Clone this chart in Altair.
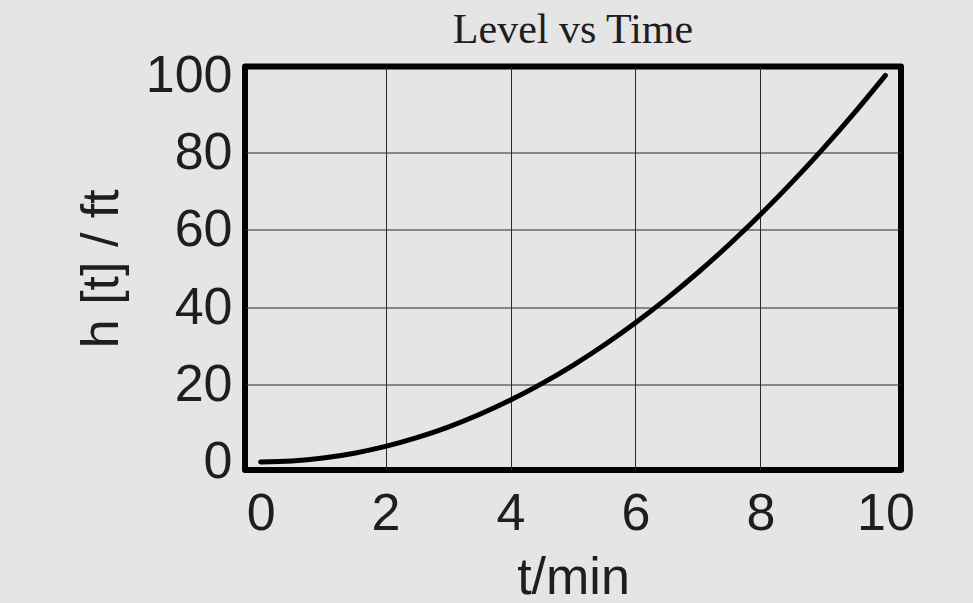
import altair as alt
import pandas as pd

# Tank level readings over time
t_min = [0, 0.5, 1, 1.5, 2, 2.5, 3, 3.5, 4, 4.5, 5,
         5.5, 6, 6.5, 7, 7.5, 8, 8.5, 9, 9.5, 10]
h_ft = [0, 0.25, 1, 2.25, 4, 6.25, 9, 12.25, 16, 20.25, 25,
        30.25, 36, 42.25, 49, 56.25, 64, 72.25, 81, 90.25, 100]
x_ticks = [0, 2, 4, 6, 8, 10]
y_ticks = [0, 20, 40, 60, 80, 100]

df = pd.DataFrame({"t": t_min, "h": h_ft})

label_font = "Liberation Sans"
ink = "#1f1d1e"

# hide the grid lines that would sit on the frame ends
x_grid = alt.condition("datum.value <= 0 || datum.value >= 10", alt.value(0), alt.value(1))
y_grid = alt.condition("datum.value <= 0 || datum.value >= 100", alt.value(0), alt.value(1))

line = alt.Chart(df).mark_line(
    color="black", strokeWidth=5, strokeCap="round", interpolate="monotone"
).encode(
    x=alt.X(
        "t:Q",
        title="t/min",
        scale=alt.Scale(domain=[-0.25, 10.25], nice=False, zero=False),
        axis=alt.Axis(
            values=x_ticks, format="d", ticks=False, domain=False,
            grid=True, gridColor="#2a2a2a", gridWidth=1, gridOpacity=x_grid,
            labelFont=label_font, labelFontSize=52, labelColor=ink,
            labelPadding=18, labelFlush=False, labelOverlap=False,
            titleFont=label_font, titleFontSize=52, titleFontWeight="normal",
            titleColor=ink, titlePadding=13,
        ),
    ),
    y=alt.Y(
        "h:Q",
        title="h [t] / ft",
        scale=alt.Scale(domain=[-2.1, 102.3], nice=False, zero=False),
        axis=alt.Axis(
            values=y_ticks, format="d", ticks=False, domain=False,
            grid=True, gridColor="#2a2a2a", gridWidth=1, gridOpacity=y_grid,
            labelFont=label_font, labelFontSize=52, labelColor=ink,
            labelPadding=13, labelFlush=False, labelOverlap=False,
            titleFont=label_font, titleFontSize=52, titleFontWeight="normal",
            titleColor=ink, titlePadding=17,
        ),
    ),
)

chart = line.properties(
    width=656,
    height=403.5,
    title=alt.TitleParams(
        "Level vs Time",
        font="Liberation Serif",
        fontSize=42,
        fontWeight="normal",
        color=ink,
        anchor="middle",
        baseline="bottom",
        offset=-45,
    ),
    autosize=alt.AutoSizeParams(type="none"),
    padding={"left": 245, "top": 66.5, "right": 72, "bottom": 133},
    background="#e5e5e5",
).configure_view(
    stroke="black", strokeWidth=6, strokeJoin="round", fill="#e5e5e5"
)

chart.save("out.html", embed_options={"renderer": "svg", "actions": False})
